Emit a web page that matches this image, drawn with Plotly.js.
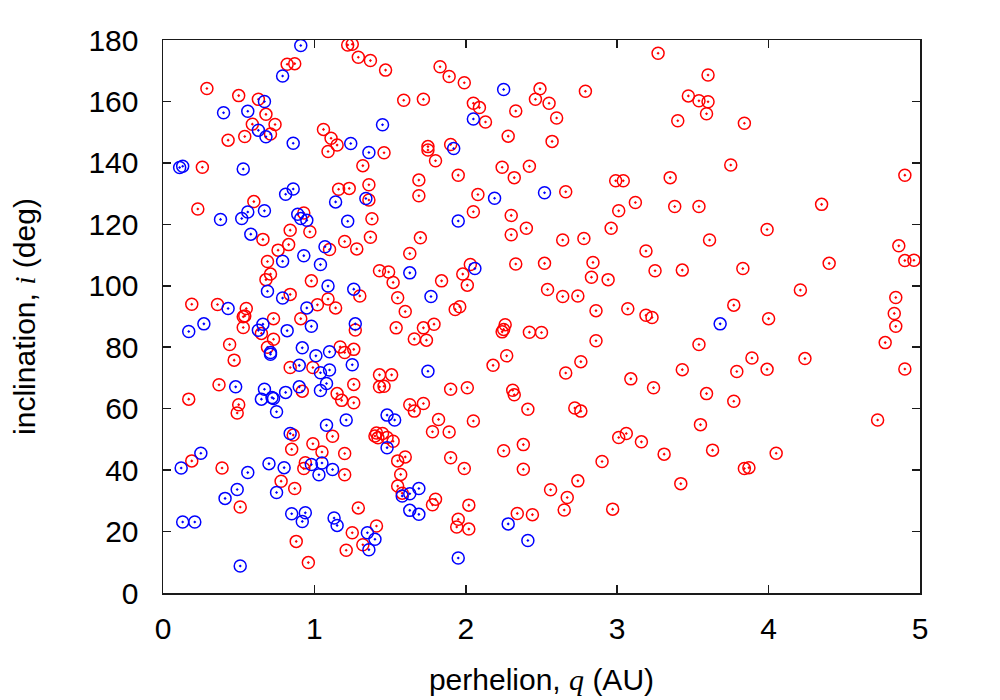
<!DOCTYPE html>
<html>
<head>
<meta charset="utf-8">
<script src="https://cdn.plot.ly/plotly-3.0.1.min.js"></script>
<style>
  html, body { margin: 0; padding: 0; background: #fff; }
  #chart { width: 1000px; height: 700px; }
</style>
</head>
<body>
<div id="chart"></div>
<script>
// perihelion q (AU) and inclination i (deg)
const redQ = [
  1.22, 1.25, 1.29, 1.37, 1.47, 0.82, 0.87, 0.29, 0.50, 0.63, 1.59, 0.68, 0.59, 0.74, 0.71, 0.54,
  0.43, 1.06, 1.11, 1.15, 1.09, 1.46, 1.32, 0.26, 1.36, 1.16, 1.23, 1.36, 0.60, 0.23, 0.93, 1.38,
  0.66, 0.84, 0.97, 0.83, 0.76, 1.10, 1.20, 1.28, 1.37, 1.63, 0.69, 1.43, 1.49, 1.52, 0.71, 0.68,
  0.98, 0.84, 1.30, 1.09, 1.55, 1.60, 0.19, 0.36, 0.55, 0.53, 0.54, 1.02, 1.14, 0.91, 0.73, 0.53,
  0.65, 1.27, 1.54, 0.73, 1.66, 0.44, 0.69, 1.17, 1.20, 1.26, 0.47, 0.84, 0.99, 1.43, 1.51, 1.43,
  1.46, 0.37, 0.92, 1.15, 1.18, 1.26, 1.26, 0.17, 0.50, 1.63,
  0.49, 0.86, 0.99, 1.12, 1.05, 0.85, 1.41, 1.45, 1.42, 1.48, 1.52, 1.40, 1.20, 1.60, 1.55, 0.19,
  0.39, 0.94, 0.93, 1.20, 1.57, 1.55, 1.58, 0.78, 0.87, 0.51, 1.29, 1.25, 1.41, 1.32, 1.21, 0.88,
  0.96, 1.66,
  1.83, 1.89, 1.99, 1.72, 2.49, 2.46, 2.55, 2.79, 3.27, 2.05, 2.09, 2.13, 2.33, 2.60, 2.28, 2.57,
  1.75, 1.75, 1.90, 1.80, 1.69, 1.69, 1.95, 2.24, 2.42, 2.32, 2.08, 2.66, 2.05, 2.30, 2.99, 3.04,
  3.35, 3.12, 3.01,
  1.70, 2.30, 2.40, 2.64, 2.78, 2.96, 3.19, 3.25, 2.03, 1.98, 2.01, 1.84, 2.33, 2.52, 2.84, 2.83,
  2.94, 2.54, 2.64, 2.74, 2.86, 3.07, 3.19, 3.23, 1.93, 1.96, 1.72, 1.79, 1.74, 2.26, 2.25, 2.24,
  2.42, 2.50, 2.86, 2.27, 2.18, 2.76, 2.66, 3.09, 3.24, 1.90, 2.01, 2.31, 2.32, 1.72, 2.72, 2.76,
  1.82, 2.05, 1.78, 1.89, 2.41, 2.25, 2.38, 2.38, 1.90, 1.99, 3.01, 3.06, 3.16, 3.31, 2.90, 2.74,
  2.56, 2.67, 2.65, 2.97, 1.78, 1.80, 2.02, 1.95, 1.94, 2.02, 2.34, 2.44,
  3.60, 3.47, 3.54, 3.60, 3.59, 3.40, 3.84, 3.75, 4.90, 4.35, 3.38, 3.54,
  3.99, 3.61, 3.43, 3.83, 4.40, 4.86, 4.90, 4.96, 4.21, 3.77, 4.00, 4.84, 4.83, 4.84, 4.77, 3.54,
  3.89, 4.24, 3.43, 3.79, 3.99, 4.90, 3.59, 3.77,
  3.55, 3.63, 4.05, 3.84, 3.87, 3.42, 4.72
];
const redI = [
  178.4, 178.6, 174.4, 173.3, 170.2, 172.1, 172.3, 164.2, 161.9, 160.7, 160.4, 155.8, 152.6, 152.5, 149.4, 148.6,
  147.4, 150.9, 148.0, 145.8, 143.7, 143.3, 139.1, 138.6, 132.9, 131.4, 131.7, 127.9, 127.4, 125.0, 123.7, 121.8,
  115.1, 118.1, 117.6, 113.4, 111.6, 111.8, 114.4, 112.0, 115.8, 110.5, 107.9, 104.9, 104.5, 101.1, 103.8, 102.0,
  101.6, 97.2, 96.7, 95.7, 96.1, 91.6, 94.0, 93.9, 92.6, 89.9, 90.2, 93.8, 92.8, 89.3, 89.3, 86.4,
  84.5, 85.6, 86.3, 82.6, 82.7, 80.9, 80.0, 80.1, 78.3, 79.3, 75.8, 73.4, 73.4, 71.0, 71.0, 67.1,
  67.3, 67.8, 65.7, 64.9, 62.7, 67.9, 61.9, 63.1, 61.3, 61.3,
  58.6, 51.4, 48.6, 51.0, 45.9, 46.8, 52.1, 51.9, 50.5, 50.6, 49.4, 51.1, 45.4, 44.3, 43.0, 43.0,
  40.7, 42.4, 40.5, 38.5, 38.6, 34.8, 32.5, 36.4, 34.0, 28.0, 27.7, 19.6, 21.8, 15.7, 13.9, 16.8,
  9.9, 59.2,
  171.3, 168.1, 166.1, 160.7, 164.1, 160.7, 159.4, 163.3, 175.7, 159.4, 158.0, 153.3, 156.9, 154.6, 148.7, 147.0,
  145.3, 144.2, 146.0, 140.7, 134.4, 129.3, 136.0, 138.6, 138.9, 135.2, 129.7, 130.6, 124.1, 122.9, 134.2, 134.2,
  135.2, 127.1, 124.4,
  115.6, 116.6, 118.7, 114.9, 115.4, 118.7, 111.3, 104.9, 106.9, 103.8, 100.2, 101.6, 107.1, 107.3, 107.6, 102.8,
  102.0, 98.8, 96.5, 96.7, 91.9, 92.5, 90.4, 89.7, 92.3, 93.2, 86.3, 87.5, 82.3, 87.3, 85.8, 85.0,
  84.9, 84.8, 82.1, 77.2, 74.1, 75.3, 71.6, 69.7, 66.8, 66.3, 66.8, 66.0, 64.5, 61.7, 60.2, 59.2,
  56.5, 56.0, 52.5, 52.4, 59.8, 46.3, 48.3, 40.3, 44.0, 40.5, 50.6, 51.9, 49.2, 45.2, 42.8, 36.5,
  33.6, 31.1, 27.0, 27.3, 28.7, 30.5, 28.6, 24.0, 21.5, 20.8, 25.9, 25.5,
  168.6, 161.8, 160.2, 159.9, 156.0, 153.7, 152.9, 139.3, 136.0, 126.5, 125.8, 125.8,
  118.3, 114.9, 105.1, 105.6, 107.3, 113.0, 108.2, 108.3, 98.6, 93.7, 89.3, 96.2, 91.0, 86.8, 81.5, 80.9,
  76.5, 76.3, 72.7, 72.1, 72.8, 72.9, 64.9, 62.4,
  54.8, 46.5, 45.5, 40.5, 40.8, 35.6, 56.3
];

const blueQ = [
  0.91, 0.79, 0.67, 0.40, 0.56, 0.63, 0.68, 1.24, 0.86, 1.36, 0.11, 0.13, 0.53, 1.34, 0.86, 0.81,
  1.14, 0.56, 0.67, 0.38, 0.52, 0.89, 0.91, 0.95, 1.22, 1.45,
  0.58, 1.07, 0.93, 0.79, 1.04, 1.63, 1.09, 0.69, 0.79, 1.26, 0.43, 0.95, 0.27, 0.17, 0.66, 0.63,
  0.82, 0.98, 1.27, 0.71, 0.71, 0.92, 1.01, 1.10, 0.90, 1.04, 1.10, 1.25, 0.48, 0.67, 0.65, 0.72,
  0.73, 0.81, 0.90, 1.04, 1.08,
  0.75, 1.48, 1.53, 1.08, 1.21, 0.84, 1.48, 0.25, 0.12, 0.56, 0.70, 0.80, 0.98, 1.05, 1.03, 1.12,
  1.58, 1.63, 0.75, 0.49, 0.41, 0.85, 0.94, 0.92, 1.13, 1.15, 0.13, 0.21, 1.35, 1.40, 1.36, 0.51,
  1.63,
  2.25, 2.05, 1.92, 2.19, 2.52, 1.95,
  2.06, 1.77, 1.75,
  1.69, 1.69, 2.28, 2.41, 1.95,
  3.68
];
const blueI = [
  178.2, 168.3, 160.0, 156.3, 156.8, 150.6, 148.5, 146.3, 146.4, 143.4, 138.5, 138.9, 138.0, 128.4, 131.5, 129.8,
  127.3, 124.0, 124.4, 121.6, 121.9, 123.3, 121.9, 121.3, 121.0, 152.4,
  116.8, 112.7, 109.8, 108.0, 106.9, 104.2, 99.9, 98.2, 96.0, 98.9, 92.6, 92.8, 87.6, 85.1, 87.5, 85.5,
  85.4, 86.8, 87.6, 78.3, 77.7, 79.8, 77.2, 78.5, 74.1, 71.7, 72.6, 74.3, 67.1, 66.3, 63.1, 63.6,
  63.3, 65.3, 67.1, 65.9, 68.2,
  59.0, 57.9, 56.3, 54.6, 56.3, 51.9, 47.3, 45.5, 40.7, 39.2, 42.1, 40.8, 41.8, 42.3, 38.5, 40.2,
  31.6, 32.3, 32.7, 33.7, 30.8, 25.8, 26.1, 23.3, 24.4, 22.0, 23.1, 23.1, 19.6, 17.5, 14.1, 8.8,
  26.9,
  163.9, 154.3, 144.7, 128.5, 130.3, 121.1,
  105.6, 96.5, 72.2,
  34.0, 25.6, 22.5, 17.1, 11.4,
  87.6
];

const xTicks = [0, 1, 2, 3, 4, 5];
const yTicks = [0, 20, 40, 60, 80, 100, 120, 140, 160, 180];

const FONT = 'Liberation Sans, Arial, Helvetica, sans-serif';
const MATH = "<span style=\"font-family:'Liberation Serif', 'DejaVu Serif', serif\"><i>";

function markerOf(color) {
  return {
    symbol: 'circle-open-dot',
    size: 12,
    color: color,
    line: { color: color, width: 1.5 }
  };
}

const traces = [
  { x: redQ, y: redI, type: 'scatter', mode: 'markers', name: 'red', marker: markerOf('#ff0000'), hoverinfo: 'x+y' },
  { x: blueQ, y: blueI, type: 'scatter', mode: 'markers', name: 'blue', marker: markerOf('#0000ff'), hoverinfo: 'x+y' }
];

const axisCommon = {
  showgrid: false,
  zeroline: false,
  showline: true,
  linecolor: '#1a1a1a',
  linewidth: 1.5,
  mirror: 'ticks',
  ticks: 'inside',
  ticklen: 8,
  tickwidth: 1.5,
  tickcolor: '#1a1a1a',
  tickfont: { family: FONT, size: 30, color: '#000' }
};

const layout = {
  width: 1000,
  height: 700,
  margin: { l: 163, r: 80, t: 40, b: 107 },
  paper_bgcolor: '#fff',
  plot_bgcolor: '#fff',
  showlegend: false,
  font: { family: FONT, color: '#000' },
  xaxis: {
    ...axisCommon,
    range: [0, 5],
    tickvals: xTicks,
    ticktext: xTicks.map(String),
    ticklabelstandoff: 8,
    title: { text: 'perhelion, ' + MATH + 'q</i></span> (AU)', font: { family: FONT, size: 30 }, standoff: 25 }
  },
  yaxis: {
    ...axisCommon,
    range: [0, 180],
    tickvals: yTicks,
    ticktext: yTicks.map(String),
    ticklabelstandoff: 17,
    title: { text: 'inclination, ' + MATH + 'i</i></span> (deg)', font: { family: FONT, size: 30 }, standoff: 44 }
  }
};

Plotly.newPlot('chart', traces, layout, { displayModeBar: false, staticPlot: true });
</script>
</body>
</html>
